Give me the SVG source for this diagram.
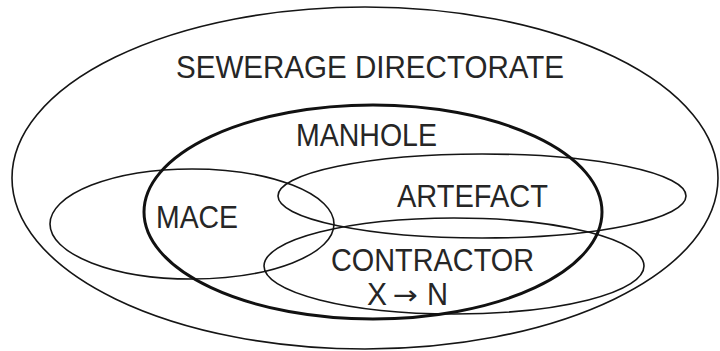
<svg xmlns="http://www.w3.org/2000/svg" width="720" height="351" viewBox="0 0 720 351">
  <style>
    .set { fill: none; stroke: #151515; stroke-width: 1.6; }
    .main { fill: none; stroke: #111; stroke-width: 3; }
    .lbl { font-family: "Liberation Sans", Arial, sans-serif; font-size: 31.5px; fill: #262626; }
    .arrow { font-family: "DejaVu Sans", sans-serif; font-size: 26px; fill: #262626; }
  </style>
  <rect width="720" height="351" fill="#fff"/>

  <g id="sewerage-directorate">
    <ellipse class="set" cx="365" cy="178" rx="353" ry="171"/>
    <text class="lbl" x="176" y="78" textLength="388" lengthAdjust="spacingAndGlyphs">SEWERAGE DIRECTORATE</text>
  </g>

  <g id="mace">
    <ellipse class="set" cx="192" cy="224" rx="142" ry="55"/>
    <text class="lbl" x="156" y="228" textLength="82" lengthAdjust="spacingAndGlyphs">MACE</text>
  </g>

  <g id="artefact">
    <ellipse class="set" cx="482" cy="196" rx="204" ry="42"/>
    <text class="lbl" x="397" y="207" textLength="151" lengthAdjust="spacingAndGlyphs">ARTEFACT</text>
  </g>

  <g id="contractor">
    <ellipse class="set" cx="454" cy="266" rx="190" ry="48"/>
    <text class="lbl" x="331" y="271" textLength="203" lengthAdjust="spacingAndGlyphs">CONTRACTOR</text>
    <text class="lbl" x="367" y="305" textLength="20" lengthAdjust="spacingAndGlyphs">X</text>
    <text class="arrow" x="393" y="304" textLength="25" lengthAdjust="spacingAndGlyphs">→</text>
    <text class="lbl" x="427" y="305" textLength="21" lengthAdjust="spacingAndGlyphs">N</text>
  </g>

  <g id="manhole">
    <ellipse class="main" cx="373" cy="212" rx="229" ry="107"/>
    <text class="lbl" x="296" y="146" textLength="141" lengthAdjust="spacingAndGlyphs">MANHOLE</text>
  </g>
</svg>
